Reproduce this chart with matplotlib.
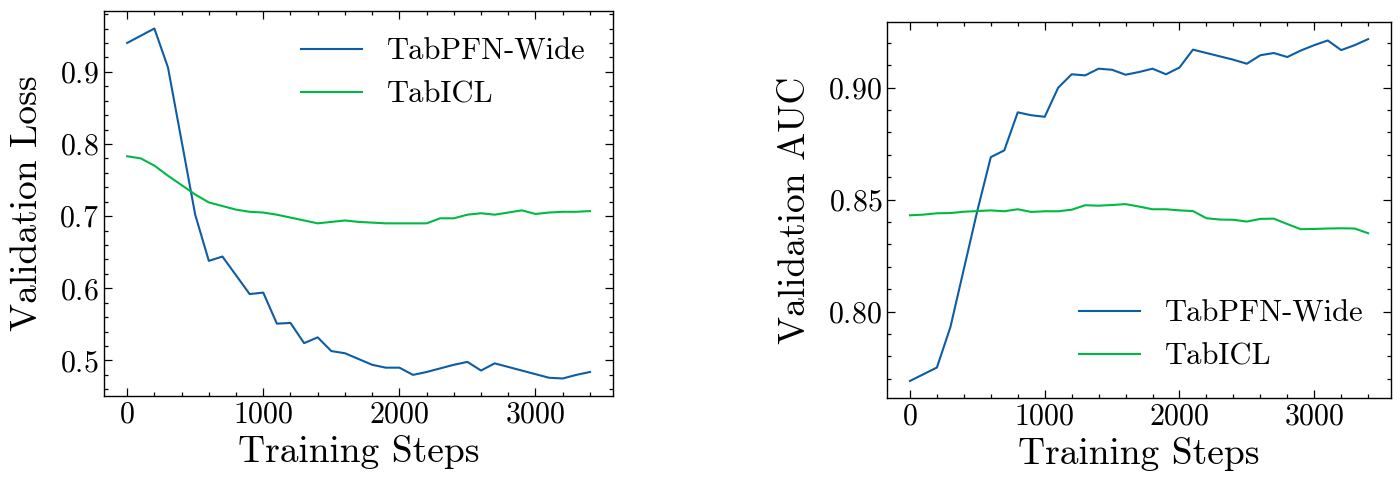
import matplotlib
matplotlib.use("Agg")
import matplotlib.pyplot as plt
from matplotlib.ticker import AutoMinorLocator

plt.rcParams.update({
    "font.family": "serif",
    "font.serif": ["cmr10"],
    "mathtext.fontset": "cm",
    "axes.formatter.use_mathtext": True,
    "axes.unicode_minus": False,
    "xtick.direction": "in",
    "ytick.direction": "in",
    "xtick.top": True,
    "ytick.right": True,
    "xtick.major.size": 5.5,
    "ytick.major.size": 5.5,
    "xtick.minor.size": 3,
    "ytick.minor.size": 3,
    "xtick.major.width": 0.9,
    "ytick.major.width": 0.9,
    "xtick.minor.width": 0.9,
    "ytick.minor.width": 0.9,
    "axes.linewidth": 1.0,
})

blue = "#0C5DA5"
green = "#00B945"

steps = list(range(0, 3500, 100))

# validation loss
loss_wide = [0.940, 0.950, 0.960, 0.906, 0.804, 0.702, 0.638, 0.644, 0.618, 0.592,
             0.594, 0.551, 0.552, 0.524, 0.532, 0.513, 0.510, 0.502, 0.494, 0.490,
             0.490, 0.480, 0.484, 0.489, 0.494, 0.498, 0.486, 0.496, 0.491, 0.486,
             0.481, 0.476, 0.475, 0.480, 0.484]
loss_icl = [0.783, 0.780, 0.770, 0.756, 0.743, 0.730, 0.719, 0.714, 0.709, 0.706,
            0.705, 0.702, 0.698, 0.694, 0.690, 0.692, 0.694, 0.692, 0.691, 0.690,
            0.690, 0.690, 0.690, 0.697, 0.697, 0.702, 0.704, 0.702, 0.705, 0.708,
            0.703, 0.705, 0.706, 0.706, 0.707]

# validation AUC
auc_wide = [0.769, 0.772, 0.775, 0.793, 0.819, 0.845, 0.869, 0.872, 0.889, 0.8877,
            0.887, 0.900, 0.906, 0.9055, 0.9085, 0.908, 0.9058, 0.907, 0.9085, 0.906,
            0.909, 0.917, 0.9155, 0.914, 0.9125, 0.9107, 0.9145, 0.9155, 0.9137, 0.9166,
            0.919, 0.9211, 0.9168, 0.919, 0.9217]
auc_icl = [0.843, 0.8433, 0.8439, 0.844, 0.8446, 0.8449, 0.8452, 0.8448, 0.8457, 0.8445,
           0.8448, 0.8448, 0.8455, 0.8475, 0.8473, 0.8476, 0.848, 0.8469, 0.8457, 0.8457,
           0.8452, 0.8449, 0.8417, 0.8411, 0.841, 0.8402, 0.8414, 0.8415, 0.8391, 0.8368,
           0.8369, 0.8371, 0.8372, 0.8371, 0.835]

labels = ["TabPFN-Wide", "TabICL"]

fig = plt.figure(figsize=(14, 4.79), dpi=100)
ax1 = fig.add_axes([0.0743, 0.1733, 0.3636, 0.8037])
ax2 = fig.add_axes([0.6336, 0.169, 0.36, 0.785])

ax1.plot(steps, loss_wide, color=blue, lw=1.5, label=labels[0])
ax1.plot(steps, loss_icl, color=green, lw=1.5, label=labels[1])
ax1.set_ylabel("Validation Loss", fontsize=27, labelpad=11)
ax1.legend(loc="upper right", frameon=False, fontsize=22)

ax2.plot(steps, auc_wide, color=blue, lw=1.5, label=labels[0])
ax2.plot(steps, auc_icl, color=green, lw=1.5, label=labels[1])
ax2.set_ylabel("Validation AUC", fontsize=27, labelpad=12)
ax2.legend(loc="lower right", frameon=False, fontsize=22)

for ax in (ax1, ax2):
    ax.set_xlabel("Training Steps", fontsize=27, labelpad=5)
    ax.set_xticks([0, 1000, 2000, 3000])
    ax.xaxis.set_minor_locator(AutoMinorLocator())
    ax.yaxis.set_minor_locator(AutoMinorLocator())
    ax.tick_params(which="both", labelsize=21.5)

fig.savefig("out.png", dpi=100)
